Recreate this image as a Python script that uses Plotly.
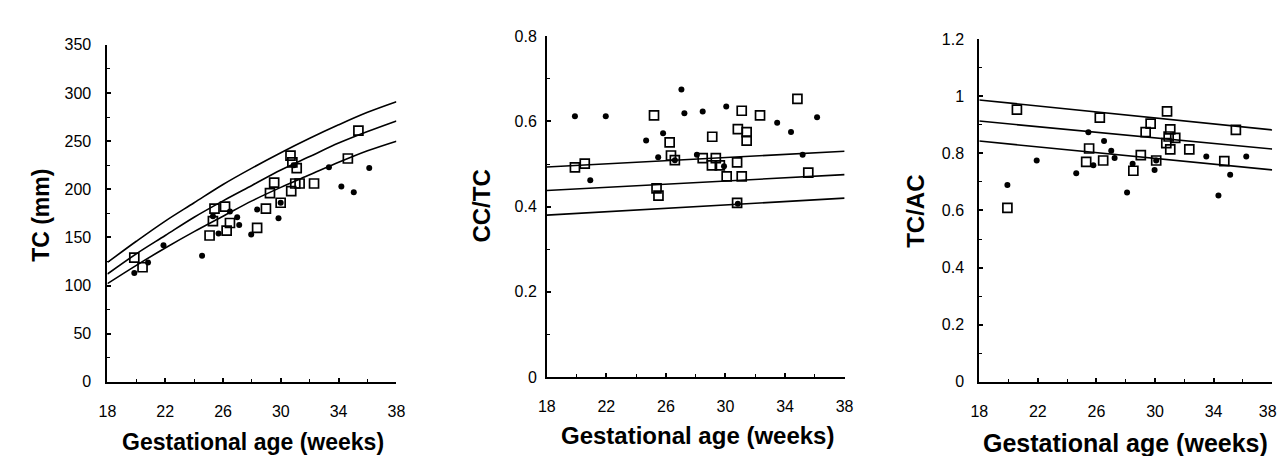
import plotly.graph_objects as go

# ---------- Panel 1: TC (mm) ----------
curve_weeks = [18, 20, 22, 24, 26, 28, 30, 32, 34, 36, 38]
tc_upper = [124, 146, 167, 186, 205, 222, 238, 253, 267, 280, 291]
tc_mid = [112, 133, 152, 171, 188, 204, 220, 234, 248, 260, 271]
tc_lower = [102, 121, 139, 156, 172, 188, 202, 215, 228, 240, 250]

tc_sq_w = [19.86, 20.43, 25.41, 26.14, 25.3, 26.48, 25.07, 26.25, 28.36, 28.97, 29.25, 29.54,
           29.99, 30.72, 30.67, 30.8, 31.1, 31.0, 31.3, 32.3, 34.64, 35.37]
tc_sq_v = [129, 119, 180, 182, 167, 165, 152, 157, 160, 180, 196, 207,
           186, 198, 235, 228, 222, 206, 206, 206, 232, 261]
tc_dot_w = [19.86, 20.81, 21.88, 24.55, 25.69, 25.3, 26.48, 26.98, 27.12, 27.95, 28.36,
            29.84, 29.99, 30.9, 33.33, 34.19, 35.05, 36.12]
tc_dot_v = [113, 124, 142, 131, 154, 172, 177, 171, 163, 153, 179,
            170, 186, 225, 223, 203, 197, 222]

# ---------- Panel 2: CC/TC ----------
line_weeks = [18, 38]
cc_upper = [0.493, 0.530]
cc_mid = [0.438, 0.475]
cc_lower = [0.380, 0.420]

cc_sq_w = [19.89, 20.55, 25.2, 26.25, 26.34, 25.37, 25.5, 26.6, 28.47, 29.35, 29.09, 29.62,
           29.11, 30.08, 30.78, 31.09, 30.83, 31.09, 31.42, 31.42, 32.32, 30.78, 34.83, 35.56]
cc_sq_v = [0.492, 0.501, 0.614, 0.551, 0.520, 0.443, 0.426, 0.509, 0.514, 0.514, 0.497, 0.497,
           0.564, 0.471, 0.504, 0.471, 0.582, 0.625, 0.575, 0.555, 0.614, 0.409, 0.653, 0.480]
cc_dot_w = [19.89, 21.96, 20.92, 24.67, 25.81, 25.48, 27.04, 27.24, 26.6, 28.08, 28.47,
            30.05, 29.9, 33.47, 34.4, 35.18, 36.15, 30.83]
cc_dot_v = [0.612, 0.612, 0.462, 0.555, 0.572, 0.516, 0.675, 0.619, 0.509, 0.522, 0.623,
            0.635, 0.495, 0.597, 0.575, 0.522, 0.610, 0.407]

# ---------- Panel 3: TC/AC ----------
ac_upper = [0.987, 0.882]
ac_mid = [0.913, 0.815]
ac_lower = [0.843, 0.742]

ac_sq_w = [19.92, 20.57, 26.23, 30.82, 29.7, 29.36, 31.04, 30.93, 31.38, 30.77, 31.04, 32.34,
           35.52, 25.5, 34.73, 25.3, 26.46, 28.52, 29.03, 30.08]
ac_sq_v = [0.609, 0.953, 0.925, 0.947, 0.904, 0.874, 0.884, 0.859, 0.854, 0.836, 0.814, 0.814,
           0.882, 0.817, 0.773, 0.770, 0.775, 0.739, 0.794, 0.775]
ac_dot_w = [19.92, 21.92, 24.62, 25.45, 25.79, 26.52, 27.01, 27.24, 28.09, 28.47, 29.97,
            30.08, 33.5, 34.33, 35.13, 36.23]
ac_dot_v = [0.689, 0.775, 0.730, 0.874, 0.758, 0.843, 0.809, 0.784, 0.663, 0.764, 0.742,
            0.775, 0.789, 0.652, 0.725, 0.789]

x_ticks = [18, 22, 26, 30, 34, 38]
x_ticktext = ["18", "22", "26", "30", "34", "38"]
x_ticktext_p3 = ["18", "22", "26", "30", "34", "38\u00a0\u00a0"]

fig = go.Figure()

line_style = dict(color="black", width=1.6)
dot_style = dict(symbol="circle", size=6, color="black")
sq_style = dict(symbol="square-open", size=9, color="black", line=dict(width=1.7, color="black"))


def add_panel(xa, ya, lx, curves, sq_w, sq_v, dot_w, dot_v, spline):
    for c in curves:
        fig.add_trace(go.Scatter(x=lx, y=c, mode="lines",
                                 line=dict(shape="spline" if spline else "linear", **line_style),
                                 xaxis=xa, yaxis=ya, showlegend=False, hoverinfo="skip"))
    fig.add_trace(go.Scatter(x=dot_w, y=dot_v, mode="markers", marker=dot_style,
                             xaxis=xa, yaxis=ya, showlegend=False))
    fig.add_trace(go.Scatter(x=sq_w, y=sq_v, mode="markers", marker=sq_style,
                             xaxis=xa, yaxis=ya, showlegend=False))


add_panel("x", "y", curve_weeks, [tc_upper, tc_mid, tc_lower], tc_sq_w, tc_sq_v, tc_dot_w, tc_dot_v, True)
add_panel("x2", "y2", line_weeks, [cc_upper, cc_mid, cc_lower], cc_sq_w, cc_sq_v, cc_dot_w, cc_dot_v, False)
add_panel("x3", "y3", line_weeks, [ac_upper, ac_mid, ac_lower], ac_sq_w, ac_sq_v, ac_dot_w, ac_dot_v, False)

W, H = 1288, 456
tickfont = dict(family="Arial, Liberation Sans", size=16, color="black")


def xaxis(px0, px1, lw, ticktext):
    return dict(domain=[px0 / W, px1 / W], range=[18, 38], tickvals=x_ticks, ticktext=ticktext,
                ticks="inside", ticklen=4, tickwidth=1.5, tickcolor="black", showline=True,
                linecolor="black", linewidth=lw, showgrid=False, zeroline=False, tickfont=tickfont,
                ticklabelstandoff=14,
                minor=dict(dtick=2, tick0=18, ticks="inside", ticklen=3, tickcolor="black", tickwidth=1.2),
                fixedrange=True)


def yaxis(py0, py1, rng, dtick, mdtick, lw, anchor, standoff):
    return dict(domain=[(H - py0) / H, (H - py1) / H], range=rng, dtick=dtick, tick0=0, ticks="inside",
                ticklen=4, tickwidth=1.5, tickcolor="black", showline=True, linecolor="black",
                linewidth=lw, showgrid=False, zeroline=False, tickfont=tickfont,
                ticklabelstandoff=standoff,
                minor=dict(dtick=mdtick, tick0=0, ticks="inside", ticklen=3, tickcolor="black", tickwidth=1.2),
                anchor=anchor, fixedrange=True)


fig.update_layout(
    width=W, height=H,
    margin=dict(l=0, r=0, t=0, b=0),
    paper_bgcolor="white", plot_bgcolor="white",
    xaxis=dict(anchor="y", **xaxis(92, 386, 2, x_ticktext)),
    yaxis=yaxis(380, 30, [0, 350], 50, 25, 2, "x", 11),
    xaxis2=dict(anchor="y2", **xaxis(539, 842, 1.6, x_ticktext)),
    yaxis2=yaxis(375, 21, [0, 0.8], 0.2, 0.1, 1.6, "x2", 5),
    xaxis3=dict(anchor="y3", **xaxis(979, 1277, 2, x_ticktext_p3)),
    yaxis3=yaxis(380, 24, [0, 1.2], 0.2, 0.1, 2, "x3", 10),
)

title_font = dict(family="Arial, Liberation Sans", color="black")


def ann(text, px, py, size, angle=0):
    fig.add_annotation(text="<b>" + text + "</b>", x=px / W, y=(H - py) / H, xref="paper", yref="paper",
                       showarrow=False, xanchor="center", yanchor="middle", textangle=angle,
                       font=dict(size=size, **title_font))


ann("Gestational age (weeks)", 240, 442, 23)
ann("Gestational age (weeks)", 692, 436, 24)
ann("Gestational age (weeks)", 1128, 444, 25)
ann("TC (mm)", 25, 207, 23, -90)
ann("CC/TC", 473, 197, 24, -90)
ann("TC/AC", 914, 203, 24, -90)

fig.write_html("out.html")
